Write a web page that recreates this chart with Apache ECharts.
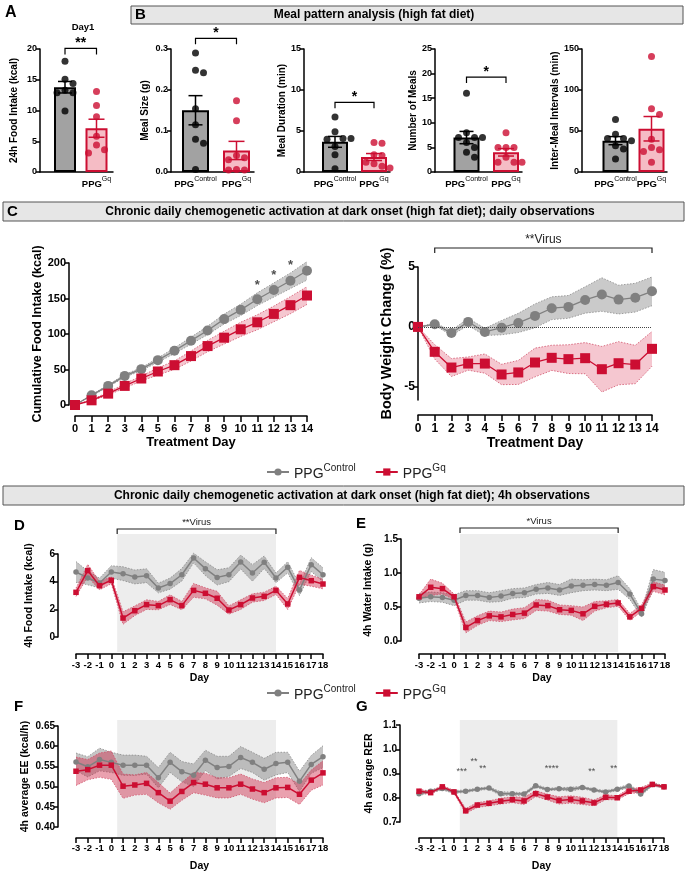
<!DOCTYPE html>
<html>
<head>
<meta charset="utf-8">
<script src="https://cdn.jsdelivr.net/npm/echarts@6/dist/echarts.min.js"></script>
<style>
html, body { margin: 0; padding: 0; background: #fff; }
#main { width: 688px; height: 876px; }
</style>
</head>
<body>
<div id="main"></div>
<script>
"use strict";

// ---- data: A / B (per-animal values) ----
var groups = ["Control", "Gq"];
var dayOneCtrl = [18, 15.1, 14.4, 13.3, 12.9, 12.9, 9.9];
var dayOneGq = [13.1, 10.8, 9.0, 5.8, 4.4, 3.6, 3.1];
var mealSizeCtrl = [0.29, 0.248, 0.242, 0.154, 0.115, 0.08, 0.07, 0.006];
var mealSizeGq = [0.174, 0.125, 0.04, 0.035, 0.03, 0.006, 0.005, 0.005];
var mealDurCtrl = [6.7, 4.9, 4.1, 4.0, 4.1, 3.1, 2.1, 0.4];
var mealDurGq = [3.6, 3.5, 2.1, 2.0, 1.2, 1.0, 0.7, 0.5];
var mealNumCtrl = [16, 8, 7, 7, 7, 6, 5, 4, 3];
var mealNumGq = [8, 5, 5, 5, 3, 2, 2, 2];
var intervalCtrl = [64, 46, 41, 41, 38, 32, 28, 16];
var intervalGq = [141, 77, 70, 40, 30, 27, 25, 12];

// ---- data: C (daily observations) ----
var treatDays = [0, 1, 2, 3, 4, 5, 6, 7, 8, 9, 10, 11, 12, 13, 14];
var cumCtrl = [0, 13.7, 26.9, 41, 50.5, 63.2, 76.4, 90.6, 105, 121, 134, 149, 162, 175, 189];
var cumCtrlSem = [0, 1, 1.5, 2, 2, 3, 4, 5, 6, 7, 8, 9, 10, 11, 13];
var cumGq = [0, 6.6, 16, 26.9, 37.3, 47.2, 56.1, 68.9, 83, 94.8, 106.6, 116.5, 128.3, 140.6, 154.2];
var cumGqSem = [0, 1, 2, 3, 3.5, 5, 6, 7, 8, 9, 10, 10.5, 11, 12, 12.5];
var cumStarDays = [11, 12, 13, 14];
var bwCtrl = [0, 0.22, -0.5, 0.42, -0.42, -0.06, 0.33, 0.92, 1.56, 1.67, 2.25, 2.7, 2.28, 2.44, 2.97];
var bwCtrlSem = [0, 0.1, 0.2, 0.3, 0.3, 0.6, 0.8, 1.0, 0.95, 0.95, 1.1, 1.4, 1.2, 1.2, 1.2];
var bwGq = [0, -2.08, -3.39, -3.06, -3.06, -3.97, -3.8, -2.97, -2.58, -2.69, -2.61, -3.53, -3.03, -3.14, -1.83];
var bwGqSem = [0, 0.6, 0.75, 0.55, 0.8, 0.85, 1.0, 1.2, 1.05, 1.2, 1.3, 1.9, 1.8, 1.6, 1.45];
var bwVirusDays = [1, 14];

// ---- data: D-G (4h observations) ----
var obsDays = [-3, -2, -1, 0, 1, 2, 3, 4, 5, 6, 7, 8, 9, 10, 11, 12, 13, 14, 15, 16, 17, 18];
var obsVirusDays = [0.5, 14];
var foodCtrl = [4.7, 4.27, 3.9, 4.7, 4.58, 4.34, 4.43, 3.54, 3.86, 4.5, 5.71, 4.94, 4.31, 4.5, 5.42, 4.63, 5.4, 4.27, 5.04, 3.4, 5.23, 4.5];
var foodCtrlSem = [0.75, 0.5, 0.35, 0.45, 0.5, 0.5, 0.5, 0.35, 0.4, 0.45, 0.35, 0.5, 0.55, 0.5, 0.5, 0.6, 0.45, 0.35, 0.4, 0.4, 0.5, 0.5];
var foodGq = [3.23, 4.8, 3.71, 4.1, 1.37, 1.9, 2.34, 2.27, 2.7, 2.27, 3.37, 3.16, 2.8, 1.95, 2.34, 2.82, 2.94, 3.37, 2.39, 4.31, 4.07, 3.83];
var foodGqSem = [0.3, 0.45, 0.3, 0.25, 0.45, 0.35, 0.35, 0.3, 0.35, 0.3, 0.5, 0.4, 0.5, 0.3, 0.35, 0.3, 0.3, 0.3, 0.4, 0.5, 0.4, 0.35];
var waterCtrl = [0.63, 0.65, 0.64, 0.6, 0.67, 0.67, 0.64, 0.66, 0.7, 0.71, 0.76, 0.78, 0.75, 0.81, 0.82, 0.83, 0.82, 0.86, 0.69, 0.4, 0.91, 0.89];
var waterCtrlSem = [0.07, 0.07, 0.07, 0.08, 0.07, 0.07, 0.07, 0.08, 0.07, 0.07, 0.07, 0.08, 0.08, 0.1, 0.08, 0.08, 0.08, 0.1, 0.08, 0.05, 0.14, 0.12];
var waterGq = [0.65, 0.79, 0.77, 0.65, 0.2, 0.3, 0.37, 0.355, 0.39, 0.41, 0.53, 0.52, 0.46, 0.45, 0.4, 0.51, 0.54, 0.56, 0.355, 0.48, 0.8, 0.75];
var waterGqSem = [0.03, 0.12, 0.08, 0.04, 0.08, 0.07, 0.07, 0.07, 0.08, 0.08, 0.08, 0.08, 0.07, 0.07, 0.1, 0.07, 0.05, 0.05, 0.05, 0.05, 0.07, 0.07];
var eeCtrl = [0.561, 0.549, 0.567, 0.56, 0.553, 0.553, 0.553, 0.522, 0.56, 0.537, 0.528, 0.565, 0.547, 0.55, 0.572, 0.56, 0.543, 0.557, 0.56, 0.513, 0.555, 0.574];
var eeCtrlSem = [0.022, 0.025, 0.028, 0.025, 0.025, 0.025, 0.022, 0.025, 0.025, 0.025, 0.028, 0.025, 0.028, 0.025, 0.027, 0.025, 0.027, 0.028, 0.025, 0.025, 0.022, 0.027];
var eeGq = [0.538, 0.542, 0.553, 0.553, 0.501, 0.504, 0.508, 0.485, 0.464, 0.488, 0.51, 0.506, 0.497, 0.497, 0.506, 0.494, 0.485, 0.497, 0.498, 0.481, 0.516, 0.534];
var eeGqSem = [0.035, 0.025, 0.03, 0.035, 0.03, 0.025, 0.027, 0.025, 0.02, 0.022, 0.025, 0.027, 0.025, 0.025, 0.025, 0.025, 0.025, 0.025, 0.025, 0.025, 0.025, 0.03];
var rerCtrl = [0.817, 0.827, 0.838, 0.824, 0.827, 0.835, 0.84, 0.817, 0.817, 0.815, 0.849, 0.834, 0.837, 0.835, 0.842, 0.832, 0.824, 0.835, 0.848, 0.815, 0.855, 0.845];
var rerCtrlSem = [0.008, 0.006, 0.006, 0.006, 0.005, 0.005, 0.005, 0.008, 0.006, 0.006, 0.006, 0.005, 0.005, 0.008, 0.005, 0.005, 0.005, 0.005, 0.008, 0.008, 0.006, 0.005];
var rerGq = [0.827, 0.821, 0.845, 0.824, 0.746, 0.77, 0.777, 0.786, 0.792, 0.787, 0.817, 0.803, 0.789, 0.793, 0.787, 0.779, 0.802, 0.8, 0.827, 0.832, 0.855, 0.845];
var rerGqSem = [0.008, 0.006, 0.006, 0.006, 0.01, 0.01, 0.01, 0.012, 0.012, 0.015, 0.012, 0.012, 0.015, 0.015, 0.015, 0.012, 0.01, 0.008, 0.01, 0.01, 0.006, 0.005];
var rerStarX = [0.66, 1.71, 2.46, 8.37, 11.8, 13.7];
var rerStarY = [0.907, 0.95, 0.92, 0.92, 0.907, 0.92];
var rerStarText = ["***", "**", "**", "****", "**", "**"];

var FONT = "'Liberation Sans', Arial, Helvetica, sans-serif";
var RED = "#cc0e32";
var GREY = "#808080";

var grid = [], xAxis = [], yAxis = [], series = [];

function mean(a) { return a.reduce(function (s, v) { return s + v; }, 0) / a.length; }
function sem(a) {
    var m = mean(a);
    var ss = a.reduce(function (s, v) { return s + (v - m) * (v - m); }, 0);
    return Math.sqrt(ss / (a.length - 1)) / Math.sqrt(a.length);
}
function zip(xs, ys) { return xs.map(function (x, i) { return [x, ys[i]]; }); }

// simple beeswarm: spread dots sideways where they would overlap
function swarm(vals, pxY, pxX, d) {
    var placed = [];
    return vals.map(function (v) {
        var py = v * pxY;
        for (var k = 0; k < 40; k++) {
            var off = (k % 2 ? 1 : -1) * Math.ceil(k / 2) * d;
            var clear = placed.every(function (p) {
                var dx = p[0] - off, dy = p[1] - py;
                return dx * dx + dy * dy >= d * d;
            });
            if (clear) { placed.push([off, py]); return off / pxX; }
        }
        return 0;
    });
}

var catRich = {
    p: {fontFamily: FONT, fontSize: 9.5, fontWeight: "bold", color: "#000", lineHeight: 13, verticalAlign: "bottom"},
    s: {fontFamily: FONT, fontSize: 7, color: "#000", lineHeight: 7, verticalAlign: "top"}
};

/**
 * bar + dots + SEM panel (A, B)
 */
function addBarPanel(o) {
    var gi = grid.length;
    var span = o.c1 - o.c0;
    grid.push({left: o.axisX, top: o.top, width: o.xEnd - o.axisX, height: o.bottom - o.top});
    xAxis.push({
        gridIndex: gi, type: "value",
        min: -(o.c0 - o.axisX) / span, max: 1 + (o.xEnd - o.c1) / span,
        axisLine: {show: true, onZero: false, lineStyle: {color: "#000", width: 1.5}},
        axisTick: {show: false}, splitLine: {show: false},
        axisLabel: {
            customValues: [0, 1], margin: 4, rich: catRich,
            formatter: function (v) { return "{p|PPG}{s|" + (v < 0.5 ? groups[0] : groups[1]) + "}"; }
        }
    });
    yAxis.push({
        gridIndex: gi, type: "value", min: 0, max: o.yMax, interval: o.yStep,
        name: o.yName, nameLocation: "middle", nameGap: o.nameGap, nameRotate: 90,
        nameTextStyle: {fontFamily: FONT, fontSize: 10, fontWeight: "bold", color: "#000"},
        axisLine: {show: true, onZero: false, lineStyle: {color: "#000", width: 1.5}},
        axisTick: {show: true, length: 4, lineStyle: {color: "#000", width: 1.5}},
        axisLabel: {fontFamily: FONT, fontSize: 9, fontWeight: "bold", color: "#000", margin: 3, formatter: o.fmt},
        splitLine: {show: false}
    });
    var m0 = mean(o.ctrl), m1 = mean(o.gq);
    series.push({
        type: "bar", xAxisIndex: gi, yAxisIndex: gi, barWidth: o.barW, z: 2, silent: true,
        data: [
            {value: [0, m0], itemStyle: {color: "#a2a2a2", borderColor: "#000", borderWidth: 2}},
            {value: [1, m1], itemStyle: {color: "#f5bcc5", borderColor: RED, borderWidth: 2}}
        ]
    });
    series.push({
        type: "custom", xAxisIndex: gi, yAxisIndex: gi, z: 4, silent: true,
        data: [[0, m0, sem(o.ctrl)], [1, m1, sem(o.gq)]],
        renderItem: function (params, api) {
            var x = api.value(0), m = api.value(1), s = api.value(2);
            var hi = api.coord([x, m + s]), lo = api.coord([x, m - s]);
            var c = params.dataIndex === 0 ? "#000" : RED;
            var w = params.dataIndex === 0 ? 7 : 8;
            var st = {stroke: c, lineWidth: 1.5};
            return {type: "group", children: [
                {type: "line", shape: {x1: hi[0], y1: hi[1], x2: lo[0], y2: lo[1]}, style: st},
                {type: "line", shape: {x1: hi[0] - w, y1: hi[1], x2: hi[0] + w, y2: hi[1]}, style: st},
                {type: "line", shape: {x1: lo[0] - w, y1: lo[1], x2: lo[0] + w, y2: lo[1]}, style: st}
            ]};
        }
    });
    var pxY = (o.bottom - o.top) / o.yMax;
    var offC = swarm(o.ctrl, pxY, span, 8);
    var offG = swarm(o.gq, pxY, span, 8);
    series.push({
        type: "scatter", xAxisIndex: gi, yAxisIndex: gi, z: 5, silent: true, symbolSize: 7,
        itemStyle: {color: "#000"},
        data: o.ctrl.map(function (v, i) { return [offC[i], v]; })
    });
    series.push({
        type: "scatter", xAxisIndex: gi, yAxisIndex: gi, z: 5, silent: true, symbolSize: 7,
        itemStyle: {color: RED},
        data: o.gq.map(function (v, i) { return [1 + offG[i], v]; })
    });
    if (o.sigY) {
        series.push({
            type: "custom", xAxisIndex: gi, yAxisIndex: gi, z: 6, silent: true,
            data: [[0, o.sigY]],
            renderItem: function (params, api) {
                var a = api.coord([0, api.value(1)]), b = api.coord([1, api.value(1)]);
                return {type: "group", children: [
                    {type: "polyline", shape: {points: [[a[0], a[1] + 6], [a[0], a[1]], [b[0], b[1]], [b[0], b[1] + 6]]},
                        style: {stroke: "#000", lineWidth: 1.2, fill: "none"}},
                    {type: "text", x: (a[0] + b[0]) / 2, y: a[1] + 2,
                        style: {text: o.sigText, font: "bold 14px " + FONT, fill: "#000",
                            align: "center", textAlign: "center", verticalAlign: "bottom", textVerticalAlign: "bottom"}}
                ]};
            }
        });
    }
}

// SEM band as one polygon with dotted edges
function addBand(gi, xs, m, s, fill, edge) {
    series.push({
        type: "custom", xAxisIndex: gi, yAxisIndex: gi, z: 1, silent: true,
        data: zip(xs, m),
        renderItem: function (params, api) {
            if (params.dataIndex !== 0) { return null; }
            var up = xs.map(function (x, i) { return api.coord([x, m[i] + s[i]]); });
            var lo = xs.map(function (x, i) { return api.coord([x, m[i] - s[i]]); });
            var edgeStyle = {stroke: edge, lineWidth: 0.8, lineDash: [1.5, 1.5], fill: "none"};
            return {type: "group", children: [
                {type: "polygon", shape: {points: up.concat(lo.slice().reverse())}, style: {fill: fill}},
                {type: "polyline", shape: {points: up}, style: edgeStyle},
                {type: "polyline", shape: {points: lo}, style: edgeStyle}
            ]};
        }
    });
}

/**
 * time course panel with mean line and SEM band (C, D-G)
 */
function addLinePanel(o) {
    var gi = grid.length;
    grid.push({left: o.left, top: o.top, width: o.right - o.left, height: o.bottom - o.top});
    xAxis.push({
        gridIndex: gi, type: "value", min: o.xMin, max: o.xMax, interval: 1, offset: o.xOff,
        name: o.xName, nameLocation: "middle", nameGap: o.xNameGap,
        nameTextStyle: {fontFamily: FONT, fontSize: o.titleSize, fontWeight: "bold", color: "#000"},
        axisLine: {show: true, onZero: false, lineStyle: {color: "#000", width: 1.5}},
        axisTick: {show: true, length: o.tickLen, lineStyle: {color: "#000", width: 1.5}},
        axisLabel: {fontFamily: FONT, fontSize: o.xLabelSize, fontWeight: "bold", color: "#000", margin: o.xMargin, hideOverlap: false},
        splitLine: {show: false}
    });
    var yLabel = {fontFamily: FONT, fontSize: o.yLabelSize, fontWeight: "bold", color: "#000", margin: 3, formatter: o.fmt};
    var yTick = {show: true, length: 4, lineStyle: {color: "#000", width: 1.5}};
    if (o.yTicks) { yLabel.customValues = o.yTicks; yTick.customValues = o.yTicks; }
    yAxis.push({
        gridIndex: gi, type: "value", min: o.yMin, max: o.yMax, interval: o.yStep, offset: o.yOff,
        name: o.yName, nameLocation: "middle", nameGap: o.yNameGap, nameRotate: 90,
        nameTextStyle: {fontFamily: FONT, fontSize: o.yNameSize, fontWeight: "bold", color: "#000"},
        axisLine: {show: true, onZero: false, lineStyle: {color: "#000", width: 1.5}},
        axisTick: yTick, axisLabel: yLabel, splitLine: {show: false}
    });
    if (o.window) {
        series.push({
            type: "custom", xAxisIndex: gi, yAxisIndex: gi, z: 0, silent: true,
            data: [o.window],
            renderItem: function (params, api) {
                var a = api.coord([api.value(0), o.yMin]), b = api.coord([api.value(1), o.yMin]);
                var kids = [];
                if (o.shadeY) {
                    kids.push({type: "rect", shape: {x: a[0], y: o.shadeY[0], width: b[0] - a[0], height: o.shadeY[1] - o.shadeY[0]},
                        style: {fill: "#ededed"}});
                }
                if (o.bracketY) {
                    var by = o.bracketY;
                    kids.push({type: "polyline", shape: {points: [[a[0], by + 5], [a[0], by], [b[0], by], [b[0], by + 5]]},
                        style: {stroke: "#222", lineWidth: 1.2, fill: "none"}});
                    kids.push({type: "text", x: (a[0] + b[0]) / 2, y: by - 2,
                        style: {text: o.bracketText, font: o.bracketFont + "px " + FONT, fill: "#222",
                            align: "center", textAlign: "center", verticalAlign: "bottom", textVerticalAlign: "bottom"}});
                }
                return {type: "group", children: kids};
            }
        });
    }
    addBand(gi, o.days, o.ctrl, o.ctrlSem, o.ctrlFill, "#8a8a8a");
    addBand(gi, o.days, o.gq, o.gqSem, o.gqFill, "#d0506a");
    var ctrlLine = {
        name: "PPGControl", type: "line", xAxisIndex: gi, yAxisIndex: gi, z: 3, silent: true,
        symbol: "circle", symbolSize: o.sym, itemStyle: {color: GREY}, lineStyle: {color: GREY, width: o.lw},
        data: zip(o.days, o.ctrl)
    };
    if (o.zeroLine) {
        ctrlLine.markLine = {silent: true, symbol: ["none", "none"], label: {show: false},
            lineStyle: {type: "dotted", color: "#444", width: 1}, data: [{yAxis: 0}]};
    }
    series.push(ctrlLine);
    series.push({
        name: "PPGGq", type: "line", xAxisIndex: gi, yAxisIndex: gi, z: 4, silent: true,
        symbol: "rect", symbolSize: o.sym, itemStyle: {color: RED}, lineStyle: {color: RED, width: o.lw},
        data: zip(o.days, o.gq)
    });
    if (o.stars) {
        series.push({
            type: "scatter", xAxisIndex: gi, yAxisIndex: gi, z: 5, silent: true, symbolSize: 0,
            label: {show: true, position: o.starPos, distance: 1, fontFamily: FONT, fontSize: o.starSize,
                fontWeight: o.starWeight, color: "#222", formatter: function (p) { return o.starText[p.dataIndex]; }},
            data: o.stars
        });
    }
}

// ---- A ----
addBarPanel({axisX: 40, xEnd: 113, top: 49, bottom: 172, c0: 65, c1: 96.5, barW: 22,
    yMax: 20, yStep: 5, yName: "24h Food Intake (kcal)", nameGap: 21,
    ctrl: dayOneCtrl, gq: dayOneGq, sigY: 20.1, sigText: "**"});
// ---- B ----
addBarPanel({axisX: 171, xEnd: 254, top: 49, bottom: 172, c0: 195.5, c1: 236.5, barW: 27,
    yMax: 0.3, yStep: 0.1, fmt: function (v) { return v.toFixed(1); }, yName: "Meal Size (g)", nameGap: 21,
    ctrl: mealSizeCtrl, gq: mealSizeGq, sigY: 0.326, sigText: "*"});
addBarPanel({axisX: 304, xEnd: 390, top: 49, bottom: 172, c0: 335, c1: 374, barW: 26,
    yMax: 15, yStep: 5, yName: "Meal Duration (min)", nameGap: 15,
    ctrl: mealDurCtrl, gq: mealDurGq, sigY: 8.5, sigText: "*"});
addBarPanel({axisX: 435, xEnd: 522, top: 49, bottom: 172, c0: 466.5, c1: 506, barW: 26,
    yMax: 25, yStep: 5, yName: "Number of Meals", nameGap: 14,
    ctrl: mealNumCtrl, gq: mealNumGq, sigY: 19.3, sigText: "*"});
addBarPanel({axisX: 582, xEnd: 667, top: 49, bottom: 172, c0: 615.5, c1: 651.5, barW: 26,
    yMax: 150, yStep: 50, yName: "Inter-Meal Intervals (min)", nameGap: 19,
    ctrl: intervalCtrl, gq: intervalGq});

// ---- C ----
addLinePanel({left: 75, right: 307, top: 263, bottom: 405, xMin: 0, xMax: 14, xOff: 11, yOff: 6,
    yMin: 0, yMax: 200, yStep: 50, xName: "Treatment Day", xNameGap: 20, titleSize: 13,
    xLabelSize: 11, xMargin: 7, yLabelSize: 11, tickLen: 6,
    yName: "Cumulative Food Intake (kcal)", yNameSize: 12.5, yNameGap: 25,
    sym: 10, lw: 1.3, days: treatDays,
    ctrl: cumCtrl, ctrlSem: cumCtrlSem, gq: cumGq, gqSem: cumGqSem,
    ctrlFill: "rgba(150,150,150,0.5)", gqFill: "rgba(222,70,100,0.3)",
    stars: cumStarDays.map(function (d) { return [d, cumCtrl[d] + cumCtrlSem[d]]; }),
    starText: cumStarDays.map(function () { return "*"; }), starPos: "top", starSize: 13, starWeight: "bold"});
addLinePanel({left: 418, right: 652, top: 267, bottom: 400, xMin: 0, xMax: 14, xOff: 15, yOff: 0,
    yMin: -6.1, yMax: 5, yStep: 5, yTicks: [-5, 0, 5], xName: "Treatment Day", xNameGap: 21, titleSize: 14,
    xLabelSize: 12, xMargin: 8, yLabelSize: 12, tickLen: 6,
    yName: "Body Weight Change (%)", yNameSize: 14.5, yNameGap: 24,
    sym: 10, lw: 1.3, days: treatDays,
    ctrl: bwCtrl, ctrlSem: bwCtrlSem, gq: bwGq, gqSem: bwGqSem,
    ctrlFill: "rgba(150,150,150,0.5)", gqFill: "rgba(222,70,100,0.3)", zeroLine: true,
    window: bwVirusDays, bracketY: 248, bracketText: "**Virus", bracketFont: 12});

// ---- D-G ----
var small = {xMin: -3, xMax: 18, xName: "Day", titleSize: 10.5, xLabelSize: 9.5, yLabelSize: 10,
    tickLen: 5, yNameSize: 10.5, sym: 5.5, lw: 1.5, days: obsDays, window: obsVirusDays,
    ctrlFill: "rgba(140,140,140,0.5)", gqFill: "rgba(205,30,65,0.42)", bracketFont: 9.5};
function withSmall(o) { return Object.assign({}, small, o); }
addLinePanel(withSmall({left: 76, right: 323, top: 554, bottom: 637, xOff: 17, yOff: 18, xNameGap: 19, xMargin: 6,
    yMin: 0, yMax: 6, yStep: 2, yName: "4h Food Intake (kcal)", yNameGap: 23,
    ctrl: foodCtrl, ctrlSem: foodCtrlSem, gq: foodGq, gqSem: foodGqSem,
    shadeY: [534, 652], bracketY: 529, bracketText: "**Virus"}));
addLinePanel(withSmall({left: 419, right: 665, top: 539, bottom: 641, xOff: 13, yOff: 18, xNameGap: 19, xMargin: 6,
    yMin: 0, yMax: 1.5, yStep: 0.5, fmt: function (v) { return v.toFixed(1); },
    yName: "4h Water Intake (g)", yNameGap: 27,
    ctrl: waterCtrl, ctrlSem: waterCtrlSem, gq: waterGq, gqSem: waterGqSem,
    shadeY: [534, 652], bracketY: 528, bracketText: "*Virus"}));
addLinePanel(withSmall({left: 76, right: 323, top: 726, bottom: 827, xOff: 11, yOff: 18, xNameGap: 23, xMargin: 5,
    yMin: 0.4, yMax: 0.65, yStep: 0.05, fmt: function (v) { return v.toFixed(2); },
    yName: "4h average EE (kcal/h)", yNameGap: 27,
    ctrl: eeCtrl, ctrlSem: eeCtrlSem, gq: eeGq, gqSem: eeGqSem,
    shadeY: [720, 837]}));
addLinePanel(withSmall({left: 419, right: 664, top: 725, bottom: 822, xOff: 16, yOff: 19, xNameGap: 23, xMargin: 5,
    yMin: 0.7, yMax: 1.1, yStep: 0.1, fmt: function (v) { return v.toFixed(1); },
    yName: "4h average RER", yNameGap: 25,
    ctrl: rerCtrl, ctrlSem: rerCtrlSem, gq: rerGq, gqSem: rerGqSem,
    shadeY: [720, 837],
    stars: zip(rerStarX, rerStarY), starText: rerStarText, starPos: "inside", starSize: 9, starWeight: "normal"}));

// ---- legends ----
var legendRich = {
    p: {fontFamily: FONT, fontSize: 14, color: "#222", lineHeight: 18, verticalAlign: "bottom"},
    s: {fontFamily: FONT, fontSize: 10, color: "#222", lineHeight: 10, verticalAlign: "top"}
};
function legendAt(top) {
    return {
        top: top, left: 261, itemWidth: 22, itemHeight: 9, itemGap: 19, selectedMode: false,
        data: ["PPGControl", "PPGGq"],
        formatter: function (n) { return "{p|PPG}{s|" + (n === "PPGControl" ? groups[0] : groups[1]) + "}"; },
        textStyle: {rich: legendRich}
    };
}

// ---- headers / letters ----
function txt(x, y, s, font, align) {
    return {type: "text", x: x, y: y, z: 10,
        style: {text: s, font: font, fill: "#000", align: align || "left", textAlign: align || "left",
            verticalAlign: "middle", textVerticalAlign: "middle"}};
}
function box(x, y, w, h) {
    return {type: "rect", z: 9, shape: {x: x, y: y, width: w, height: h},
        style: {fill: "#e6e6e6", stroke: "#555", lineWidth: 1}};
}
var graphic = [
    txt(5, 13, "A", "bold 16px " + FONT),
    txt(83, 27, "Day1", "bold 9.5px " + FONT, "center"),
    box(131, 6, 552, 18),
    txt(135, 15, "B", "bold 15px " + FONT),
    txt(374, 15, "Meal pattern analysis (high fat diet)", "bold 12px " + FONT, "center"),
    box(3, 202, 681, 19),
    txt(7, 212, "C", "bold 15px " + FONT),
    txt(350, 212, "Chronic daily chemogenetic activation at dark onset (high fat diet); daily observations", "bold 12px " + FONT, "center"),
    box(3, 486, 681, 19),
    txt(352, 496, "Chronic daily chemogenetic activation at dark onset (high fat diet); 4h observations", "bold 12px " + FONT, "center"),
    txt(14, 526, "D", "bold 15px " + FONT),
    txt(356, 524, "E", "bold 15px " + FONT),
    txt(14, 707, "F", "bold 15px " + FONT),
    txt(356, 707, "G", "bold 15px " + FONT)
];

var chart = echarts.init(document.getElementById("main"), null, {renderer: "canvas"});
chart.setOption({
    animation: false,
    backgroundColor: "#fff",
    textStyle: {fontFamily: FONT},
    grid: grid,
    xAxis: xAxis,
    yAxis: yAxis,
    legend: [legendAt(458), legendAt(679)],
    graphic: graphic,
    series: series
});
</script>
</body>
</html>
